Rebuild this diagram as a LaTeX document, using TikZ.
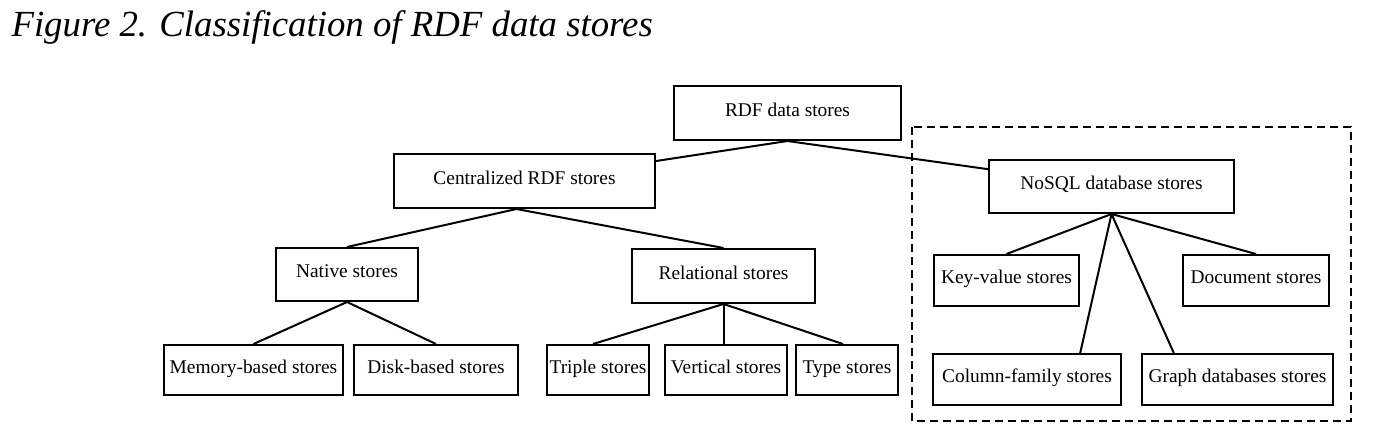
\documentclass[tikz,border=0pt]{standalone}
\usepackage{fontspec}
\setmainfont{Liberation Serif}
\usetikzlibrary{calc,positioning}
\tikzstyle{l2}=[line width=2]
\tikzstyle{box}=[rectangle, draw=black, l2, inner sep=0pt, minimum height=50pt, text height=11pt, text depth=5pt, font=\fontsize{19.4}{23}\selectfont]
\tikzstyle{group}=[l2, dash pattern=on 8pt off 5pt]

\begin{document}
\begin{tikzpicture}[x=1pt, y=-1pt]
    \useasboundingbox (0,0) rectangle (1386,444);
    \node[anchor=base west, font=\fontsize{36.8}{40}\selectfont\itshape] at (8,37) (title) {Figure 2. Classification of RDF data stores};

    % \draw[l2, opacity=0.1] (0,0) grid (1386,444);
    \node[box, minimum width=227, minimum height=54] at (787.5,113) (rdf) {RDF data stores};
    \node[box, minimum width=261, minimum height=54] at (524.5,181) (central) {Centralized RDF stores};
    \node[box, minimum width=245, minimum height=53] at (1111.5,186.5) (nosql) {NoSQL database stores};

    \node[box, minimum width=142, minimum height=53] at (347,274.5) (native) {Native stores};
    \node[box, minimum width=183, minimum height=54] at (723.5,276) (relational) {Relational stores};

    \node[box, minimum width=179] at (253.5,370) (memory) {Memory-based stores};
    \node[box, minimum width=164] at (436,370) (disk) {Disk-based stores};
    \node[box, minimum width=102] at (598,370) (triple) {Triple stores};
    \node[box, minimum width=122] at (726,370) (vertical) {Vertical stores};
    \node[box, minimum width=102] at (847,370) (type) {Type stores};

    \node[box, minimum width=145, minimum height=51] at (1006.5,280.5) (keyvalue) {Key-value stores};
    \node[box, minimum width=146, minimum height=51] at (1256,280.5) (document) {Document stores};
    \node[box, minimum width=188, minimum height=51] at (1027,379.5) (colfam) {Column-family stores};
    \node[box, minimum width=191, minimum height=51] at (1237.5,379.5) (graph) {Graph databases stores};

    \draw[group] (912,127) rectangle (1351,421);

    \draw[l2] (rdf.south) -- (central);
    \draw[l2] (rdf.south) -- (nosql);
    \draw[l2] ([xshift=-8]central.south) -- (native.north);
    \draw[l2] ([xshift=-8]central.south) -- (relational.north);
    \draw[l2] (native.south) -- (memory.north);
    \draw[l2] (native.south) -- (disk.north);
    \draw[l2] (relational.south) -- ([xshift=-5]triple.north);
    \draw[l2] (relational.south) -- (relational.south |- vertical.north);
    \draw[l2] (relational.south) -- ([xshift=-4]type.north);
    \draw[l2] (nosql.south) -- (keyvalue.north);
    \draw[l2] (nosql.south) -- (document.north);
    \draw[l2] (nosql.south) -- ($(colfam.north west)!0.78!(colfam.north east)$);
    \draw[l2] (nosql.south) -- ($(graph.north west)!0.17!(graph.north east)$);
\end{tikzpicture}
\end{document}
